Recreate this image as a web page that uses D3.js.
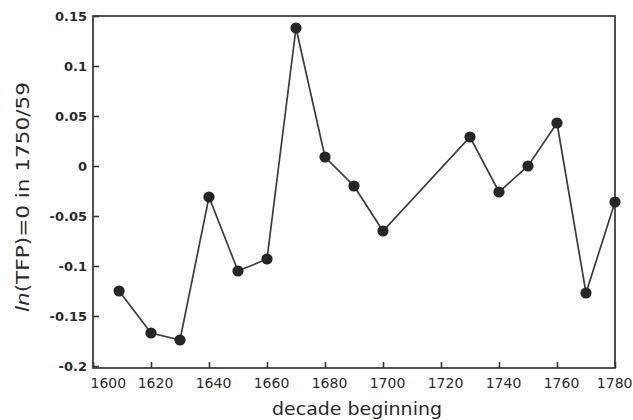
<!DOCTYPE html>
<html>
<head>
<meta charset="utf-8">
<script src="https://cdn.jsdelivr.net/npm/d3@7"></script>
<style>
  html, body { margin: 0; padding: 0; background: #fff; }
  svg { display: block; }
  text { font-family: "DejaVu Sans", sans-serif; fill: #2a2a2a; }
</style>
</head>
<body>
<svg id="chart" width="633" height="420"></svg>
<script>
// Data
const decades = [1609, 1620, 1630, 1640, 1650, 1660, 1670, 1680, 1690, 1700, 1730, 1740, 1750, 1760, 1770, 1780];
const lnTFP   = [-0.125, -0.167, -0.174, -0.031, -0.105, -0.093, 0.138, 0.009, -0.020, -0.065, 0.029, -0.026, 0.000, 0.043, -0.127, -0.036];
const xTicks = [1600, 1620, 1640, 1660, 1680, 1700, 1720, 1740, 1760, 1780];
const yTicks = [-0.2, -0.15, -0.1, -0.05, 0, 0.05, 0.1, 0.15];
const yTickLabels = ["-0.2", "-0.15", "-0.1", "-0.05", "0", "0.05", "0.1", "0.15"];
const xTitle = "decade beginning";

const margin = {left: 93, right: 18, top: 16, bottom: 52};
const W = 633, H = 420;
const svg = d3.select("#chart");

const x = d3.scaleLinear().domain([1600, 1780]).range([margin.left, W - margin.right]);
const y = d3.scaleLinear().domain([-0.2, 0.15]).range([H - margin.bottom - 2, margin.top]);
const yBottom = H - margin.bottom;

const ink = "#333";

// Frame
svg.append("rect")
  .attr("x", x(1600)).attr("y", y(0.15))
  .attr("width", x(1780) - x(1600)).attr("height", yBottom - y(0.15))
  .attr("fill", "none").attr("stroke", ink).attr("stroke-width", 1.7);

// Y axis (ticks pointing inward)
const yAxis = d3.axisRight(y).tickValues(yTicks).tickSize(6)
  .tickFormat((d, i) => yTickLabels[i]);
const gy = svg.append("g").attr("transform", `translate(${x(1600)},0)`).call(yAxis);
gy.select(".domain").remove();
gy.selectAll(".tick line").attr("stroke", ink).attr("stroke-width", 1.6);
gy.selectAll(".tick text")
  .attr("x", -6).attr("text-anchor", "end")
  .style("font-size", "13px").attr("fill", "#2a2a2a")
  .attr("font-weight", "bold");

// X axis (ticks pointing inward)
const xAxis = d3.axisTop(x).tickValues(xTicks).tickSize(6).tickFormat(d3.format("d"));
const gx = svg.append("g").attr("transform", `translate(0,${yBottom})`).call(xAxis);
gx.select(".domain").remove();
gx.selectAll(".tick line").attr("stroke", ink).attr("stroke-width", 1.6);
gx.selectAll(".tick text")
  .attr("y", 20).attr("dy", 0).attr("dx", 4)
  .style("font-size", "14px").attr("fill", "#2a2a2a");
gx.selectAll(".tick").filter(d => d === 1600).select("text")
  .attr("text-anchor", "start").attr("dx", -3);
gx.selectAll(".tick").filter(d => d === 1780).select("text")
  .attr("text-anchor", "end").attr("dx", 17);

// Line
const line = d3.line().x((d, i) => x(decades[i])).y(d => y(d));
svg.append("path").datum(lnTFP)
  .attr("d", line).attr("fill", "none")
  .attr("stroke", "#3c3c3c").attr("stroke-width", 1.7);

// Points
svg.selectAll("circle.pt").data(lnTFP).enter().append("circle")
  .attr("class", "pt")
  .attr("cx", (d, i) => x(decades[i])).attr("cy", d => y(d))
  .attr("r", 5.6).attr("fill", "#262626");

// X title
svg.append("text")
  .attr("x", 357).attr("y", 415)
  .attr("text-anchor", "middle")
  .attr("textLength", 170).attr("lengthAdjust", "spacingAndGlyphs")
  .style("font-size", "17px")
  .text(xTitle);

// Y title
const yt = svg.append("text")
  .attr("transform", "translate(29,197) rotate(-90)")
  .attr("text-anchor", "middle")
  .attr("textLength", 230).attr("lengthAdjust", "spacingAndGlyphs")
  .style("font-size", "17px");
yt.append("tspan").attr("font-style", "italic").text("ln");
yt.append("tspan").text("(TFP)=0 in 1750/59");
</script>
</body>
</html>
